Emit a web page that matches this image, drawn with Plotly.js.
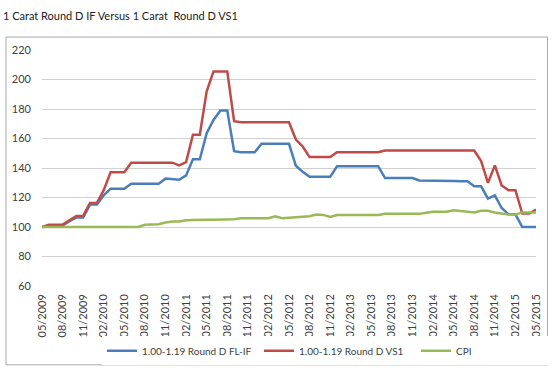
<!DOCTYPE html>
<html>
<head>
<meta charset="utf-8">
<script src="https://cdn.plot.ly/plotly-3.0.1.min.js"></script>
<style>
html,body{margin:0;padding:0;background:#fff;}
#chart{width:552px;height:370px;}
</style>
</head>
<body>
<div id="chart"></div>
<script>
// Monthly categories 05/2009 .. 05/2015
const months = [
"05/2009","06/2009","07/2009","08/2009","09/2009","10/2009","11/2009","12/2009",
"01/2010","02/2010","03/2010","04/2010","05/2010","06/2010","07/2010","08/2010","09/2010","10/2010","11/2010","12/2010",
"01/2011","02/2011","03/2011","04/2011","05/2011","06/2011","07/2011","08/2011","09/2011","10/2011","11/2011","12/2011",
"01/2012","02/2012","03/2012","04/2012","05/2012","06/2012","07/2012","08/2012","09/2012","10/2012","11/2012","12/2012",
"01/2013","02/2013","03/2013","04/2013","05/2013","06/2013","07/2013","08/2013","09/2013","10/2013","11/2013","12/2013",
"01/2014","02/2014","03/2014","04/2014","05/2014","06/2014","07/2014","08/2014","09/2014","10/2014","11/2014","12/2014",
"01/2015","02/2015","03/2015","04/2015","05/2015"
];
const tickLabels = [
"05/2009","08/2009","11/2009","02/2010","05/2010","08/2010","11/2010","02/2011","05/2011","08/2011","11/2011","02/2012",
"05/2012","08/2012","11/2012","02/2013","05/2013","08/2013","11/2013","02/2014","05/2014","08/2014","11/2014","02/2015","05/2015"
];
const seriesNames = ["1.00-1.19 Round D FL-IF","1.00-1.19 Round D VS1","CPI"];

const flif = [
100,100.5,101,101,104,106.4,106.4,115.2,115.2,121.5,126,126,126,129.4,129.4,129.4,129.4,129.4,132.8,132.5,
132,135,145.9,145.9,163.6,172.6,178.9,178.9,151.4,150.7,150.7,150.7,156.4,156.4,156.4,156.4,156.4,141.5,137.4,134,
134,134,134,141.2,141.2,141.2,141.2,141.2,141.2,141.2,133.2,133.2,133.2,133.2,133.2,131.6,131.6,131.6,131.6,131.2,
131.2,131,131,127.6,127.6,119.2,121.5,112.9,108.6,108.6,100,100,100
];
const vs1 = [
100,101.6,101.6,101.6,104.5,107.5,107.5,116.3,116.3,125,137.2,137.2,137.2,143.6,143.6,143.6,143.6,143.6,143.6,143.6,
141.8,144,162.5,162.5,192,205.5,205.5,205.5,171.7,171,171,171,171,171,171,171,171,159.3,154.6,147.4,
147.4,147.4,147.4,150.7,150.7,150.7,150.7,150.7,150.7,150.7,151.9,151.9,151.9,151.9,151.9,151.9,151.9,151.9,151.9,151.9,
151.9,151.9,151.9,151.9,144.7,129.9,141.8,128.2,124.9,124.9,109.1,109.1,111.8
];
const cpi = [
100,100,100,100,100,100,100,100,100,100,100,100,100,100,100,101.5,101.9,101.9,103,103.7,
103.7,104.5,104.7,105,105,105,105,105,105.3,106,106,106,106,106,107.3,106,106.3,106.5,107,107.3,
108.4,108.2,106.8,108.1,108.1,108.1,108.1,108.1,108.1,108.1,108.9,108.9,108.9,108.9,108.9,108.9,109.6,110.3,110.3,110.3,
111.3,110.8,110.3,109.9,111,111,109.9,109.2,108.4,108.4,109.9,109.9,109.9
];
const colors = ["#4a7ebb","#be4b48","#98b954"];

const FONT = "Lato, 'Open Sans', sans-serif";
const traces = [flif, vs1, cpi].map((v, k) => ({
  x: months, y: v, type: "scatter", mode: "lines", name: seriesNames[k],
  line: {color: colors[k], width: 2.5}, hoverinfo: "skip"
}));

const L = 42, R = 536, T = 49.5, B = 286, W = 552, H = 370;
const pw = R - L, ph = B - T;
const px = p => (p - L) / pw;
const py = p => (B - p) / ph;

const layout = {
  width: W, height: H,
  margin: {l: L, r: W - R, t: T, b: H - B, pad: 0, autoexpand: false},
  paper_bgcolor: "#ffffff", plot_bgcolor: "#ffffff",
  font: {family: FONT, size: 11, color: "#404040"},
  title: {text: "1 Carat Round D IF Versus 1 Carat  Round D VS1", font: {family: FONT, size: 11, color: "#222"},
          xref: "container", yref: "container", x: 3 / W, xanchor: "left", y: 1 - 16 / H, yanchor: "middle"},
  showlegend: true,
  legend: {orientation: "h", x: px(102), xanchor: "left", y: py(351), yanchor: "middle",
           entrywidth: 112, entrywidthmode: "pixels",
           font: {family: FONT, size: 10, color: "#404040"}, itemwidth: 30, tracegroupgap: 0},
  xaxis: {type: "category", categoryorder: "array", categoryarray: months, range: [0, months.length - 1],
          tickmode: "array", tickvals: tickLabels, ticktext: tickLabels, tickangle: -90, automargin: false,
          showgrid: false, zeroline: false, showline: false, ticks: "", ticklabelstandoff: 5,
          tickfont: {family: FONT, size: 11, color: "#404040"}},
  yaxis: {range: [60, 220], dtick: 20, tick0: 60, showgrid: true, gridcolor: "#d0d0d0", gridwidth: 1, automargin: false,
          zeroline: false, showline: false, ticks: "", ticklabelstandoff: 10,
          tickfont: {family: FONT, size: 11, color: "#404040"}},
  shapes: [{type: "rect", xref: "paper", yref: "paper", x0: px(6), x1: px(547.5), y0: py(365), y1: py(36.5),
            line: {color: "#a8a8a8", width: 1}, fillcolor: "rgba(0,0,0,0)", layer: "below"}]
};

Plotly.newPlot("chart", traces, layout, {staticPlot: true, displayModeBar: false});
</script>
</body>
</html>
